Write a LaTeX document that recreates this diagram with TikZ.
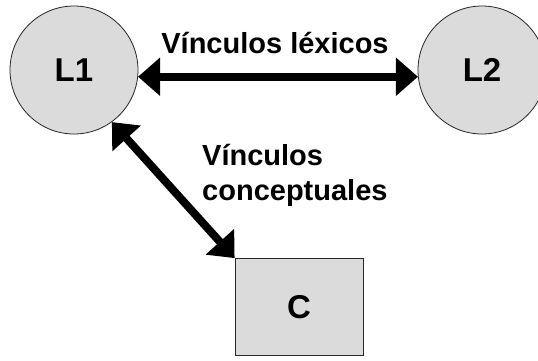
\documentclass[tikz,border=0pt]{standalone}
\usepackage{fontspec}
\setmainfont{Liberation Sans}
\usetikzlibrary{arrows.meta}

\begin{document}
\begin{tikzpicture}[x=1pt,y=-1pt,
  lang/.style={circle,draw=black!85,line width=0.8pt,fill=black!14,minimum size=128pt,inner sep=0pt,font=\fontsize{33}{36}\selectfont\bfseries},
  concept/.style={rectangle,draw=black!85,line width=0.8pt,fill=black!14,minimum width=128pt,minimum height=97pt,inner sep=0pt,font=\fontsize{33}{36}\selectfont\bfseries},
  link/.style={line width=8pt,{Triangle[length=22pt,width=37pt]}-{Triangle[length=22pt,width=37pt]}},
  lbl/.style={font=\fontsize{29}{35}\selectfont\bfseries,inner sep=0pt}]
\useasboundingbox (0,0) rectangle (538,360);
\node[lang] (L1) at (74,70) {L1};
\node[lang] (L2) at (482,70) {L2};
\node[concept] (C) at (299,307) {C};
\draw[link] (L1.-6) -- (L2.186);
\draw[link] (L1.-54) -- (C.north west);
\node[lbl] (lex) at (275,43) {Vínculos léxicos};
\node[lbl,align=left,anchor=west] (con) at (202,175) {Vínculos\\conceptuales};
\end{tikzpicture}
\end{document}
